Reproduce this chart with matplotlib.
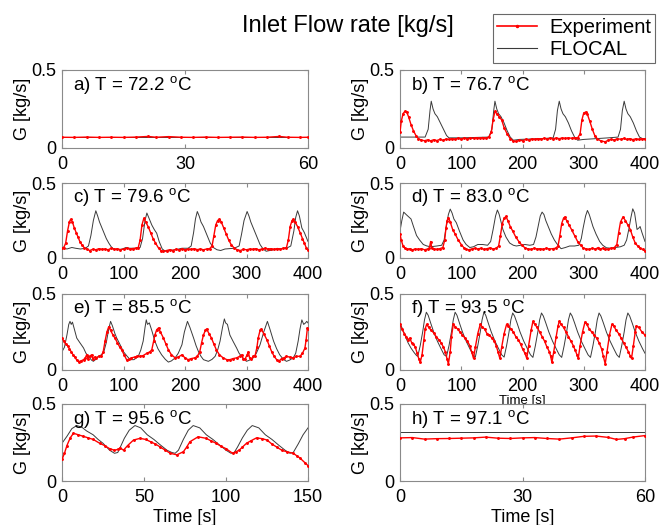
import matplotlib
matplotlib.use("Agg")
import matplotlib.pyplot as plt
from matplotlib.lines import Line2D

plt.rcParams['font.family'] = ['Liberation Sans', 'DejaVu Sans']
plt.rcParams['mathtext.fontset'] = 'custom'
plt.rcParams['mathtext.rm'] = 'Liberation Sans'

title = "Inlet Flow rate [kg/s]"
legend_labels = ["Experiment", "FLOCAL"]
panel_labels = ["a) T = 72.2", "b) T = 76.7", "c) T = 79.6", "d) T = 83.0",
                "e) T = 85.5", "f) T = 93.5", "g) T = 95.6", "h) T = 97.1"]
xlims = [60, 400, 400, 400, 400, 400, 150, 60]
xticks = [[0, 30, 60], [0, 100, 200, 300, 400], [0, 100, 200, 300, 400],
          [0, 100, 200, 300, 400], [0, 100, 200, 300, 400],
          [0, 100, 200, 300, 400], [0, 50, 100, 150], [0, 30, 60]]
yticks = [0, 0.5]
yticklabels = ["0", "0.5"]

# ---- (time [s], G [kg/s]) ----
a_sim = [(0, 0.07), (60, 0.07)]
a_exp = [(0, 0.069), (3, 0.068), (6, 0.07), (9, 0.068), (12, 0.069), (15, 0.068),
         (18, 0.07), (21, 0.074), (23, 0.069), (26, 0.073), (29, 0.069), (32, 0.068),
         (35, 0.07), (38, 0.068), (41, 0.069), (44, 0.07), (47, 0.068), (50, 0.069),
         (53, 0.074), (55, 0.069), (58, 0.068), (60, 0.069)]

b_sim = [(0, 0.07), (41, 0.07), (46, 0.12), (49, 0.24), (51, 0.30), (54, 0.25),
         (57, 0.22), (61, 0.20), (66, 0.16), (71, 0.12), (76, 0.08), (80, 0.065),
         (100, 0.065), (145, 0.07), (150, 0.12), (153, 0.24), (155, 0.30), (158, 0.25),
         (161, 0.22), (165, 0.20), (170, 0.16), (175, 0.11), (180, 0.07), (185, 0.05),
         (195, 0.055), (230, 0.06), (250, 0.065), (254, 0.12), (257, 0.24), (260, 0.30),
         (263, 0.25), (266, 0.22), (270, 0.20), (275, 0.16), (280, 0.11), (285, 0.07),
         (290, 0.05), (300, 0.055), (340, 0.065), (356, 0.07), (360, 0.12), (363, 0.24),
         (366, 0.30), (369, 0.25), (372, 0.22), (376, 0.20), (381, 0.16), (386, 0.11),
         (391, 0.07), (396, 0.06), (400, 0.06)]
b_exp = [(0, 0.10), (2, 0.17), (5, 0.22), (8, 0.235), (11, 0.23), (14, 0.20), (18, 0.15),
         (22, 0.11), (26, 0.08), (30, 0.06), (35, 0.05), (40, 0.047), (45, 0.052),
         (50, 0.046), (55, 0.053), (60, 0.048), (65, 0.055), (70, 0.05), (75, 0.057),
         (80, 0.055), (85, 0.06), (90, 0.057), (95, 0.062), (100, 0.058), (105, 0.063),
         (110, 0.06), (115, 0.065), (120, 0.061), (125, 0.066), (130, 0.062), (135, 0.067),
         (140, 0.064), (145, 0.07), (149, 0.10), (152, 0.18), (155, 0.235), (158, 0.22),
         (162, 0.20), (166, 0.18), (170, 0.13), (175, 0.09), (180, 0.06), (185, 0.045),
         (190, 0.042), (195, 0.05), (200, 0.047), (205, 0.055), (210, 0.052), (215, 0.058),
         (220, 0.055), (225, 0.06), (230, 0.057), (235, 0.062), (240, 0.058), (245, 0.063),
         (250, 0.06), (255, 0.064), (260, 0.06), (265, 0.065), (270, 0.061), (275, 0.066),
         (280, 0.062), (285, 0.066), (290, 0.065), (294, 0.09), (297, 0.18), (300, 0.225),
         (303, 0.23), (306, 0.215), (310, 0.17), (314, 0.12), (318, 0.08), (322, 0.06),
         (328, 0.045), (335, 0.04), (340, 0.05), (345, 0.055), (350, 0.052), (355, 0.06),
         (360, 0.056), (365, 0.061), (370, 0.055), (375, 0.06), (380, 0.054), (385, 0.059),
         (390, 0.055), (395, 0.06), (400, 0.056)]

c_sim = [(0, 0.08), (4, 0.065), (8, 0.06), (12, 0.065), (16, 0.07), (22, 0.065), (30, 0.06),
         (38, 0.065), (43, 0.08), (47, 0.15), (51, 0.25), (55, 0.315), (58, 0.28), (61, 0.24),
         (64, 0.21), (68, 0.17), (72, 0.13), (76, 0.10), (80, 0.075), (84, 0.06), (90, 0.055),
         (98, 0.06), (104, 0.07), (110, 0.065), (120, 0.065), (127, 0.07), (131, 0.13),
         (135, 0.25), (138, 0.30), (141, 0.27), (146, 0.22), (150, 0.19), (154, 0.165),
         (158, 0.11), (163, 0.06), (168, 0.045), (175, 0.05), (185, 0.055), (195, 0.065),
         (205, 0.065), (210, 0.08), (214, 0.17), (217, 0.26), (220, 0.31), (223, 0.28),
         (226, 0.24), (230, 0.21), (235, 0.16), (241, 0.10), (246, 0.07), (252, 0.055),
         (258, 0.05), (265, 0.06), (280, 0.065), (288, 0.08), (292, 0.16), (296, 0.25),
         (301, 0.31), (304, 0.28), (307, 0.24), (310, 0.21), (316, 0.15), (322, 0.09),
         (327, 0.06), (332, 0.045), (338, 0.05), (350, 0.06), (365, 0.065), (372, 0.08),
         (377, 0.18), (380, 0.27), (383, 0.315), (386, 0.28), (390, 0.20), (394, 0.17),
         (397, 0.14), (400, 0.11)]
c_exp = [(0, 0.066), (3, 0.07), (6, 0.10), (9, 0.18), (12, 0.24), (14, 0.258), (17, 0.24),
         (20, 0.20), (23, 0.17), (26, 0.14), (29, 0.11), (32, 0.09), (36, 0.07), (40, 0.06),
         (45, 0.05), (50, 0.058), (55, 0.055), (60, 0.062), (65, 0.058), (70, 0.06),
         (75, 0.055), (80, 0.065), (85, 0.058), (90, 0.062), (95, 0.055), (100, 0.06),
         (105, 0.065), (110, 0.06), (115, 0.063), (120, 0.065), (124, 0.07), (127, 0.12),
         (130, 0.22), (133, 0.264), (136, 0.24), (140, 0.21), (144, 0.17), (148, 0.13),
         (152, 0.10), (157, 0.066), (161, 0.05), (165, 0.044), (170, 0.05), (175, 0.055),
         (180, 0.05), (185, 0.058), (190, 0.055), (195, 0.06), (200, 0.055), (205, 0.06),
         (210, 0.058), (215, 0.062), (220, 0.056), (225, 0.06), (230, 0.055), (235, 0.06),
         (240, 0.062), (244, 0.08), (247, 0.15), (250, 0.22), (253, 0.25), (256, 0.258),
         (259, 0.24), (263, 0.20), (267, 0.16), (271, 0.12), (275, 0.09), (280, 0.066),
         (285, 0.055), (290, 0.05), (295, 0.058), (300, 0.055), (305, 0.06), (310, 0.058),
         (315, 0.062), (320, 0.055), (325, 0.06), (330, 0.065), (335, 0.06), (340, 0.062),
         (345, 0.058), (350, 0.063), (355, 0.06), (360, 0.065), (365, 0.07), (368, 0.12),
         (371, 0.21), (374, 0.25), (376, 0.258), (379, 0.24), (383, 0.21), (387, 0.17),
         (391, 0.13), (394, 0.10), (397, 0.07), (400, 0.055)]

d_sim = [(0, 0.18), (3, 0.25), (6, 0.306), (10, 0.29), (14, 0.275), (18, 0.26), (22, 0.21),
         (27, 0.15), (32, 0.12), (38, 0.09), (44, 0.08), (50, 0.075), (60, 0.08), (68, 0.085),
         (72, 0.12), (76, 0.22), (79, 0.29), (82, 0.326), (85, 0.30), (88, 0.26), (92, 0.235),
         (97, 0.18), (103, 0.12), (108, 0.09), (114, 0.07), (120, 0.075), (127, 0.09),
         (135, 0.09), (143, 0.085), (148, 0.11), (152, 0.19), (156, 0.28), (159, 0.32),
         (162, 0.29), (165, 0.24), (168, 0.19), (173, 0.14), (179, 0.10), (185, 0.085),
         (190, 0.08), (197, 0.085), (204, 0.09), (212, 0.085), (218, 0.09), (222, 0.14),
         (226, 0.22), (229, 0.28), (232, 0.306), (235, 0.29), (238, 0.25), (242, 0.21),
         (247, 0.16), (252, 0.12), (257, 0.09), (263, 0.062), (270, 0.07), (277, 0.08),
         (285, 0.08), (292, 0.085), (296, 0.13), (299, 0.20), (303, 0.28), (306, 0.317),
         (309, 0.29), (312, 0.25), (315, 0.21), (320, 0.16), (326, 0.11), (331, 0.085),
         (337, 0.068), (345, 0.065), (352, 0.07), (360, 0.075), (366, 0.085), (370, 0.12),
         (374, 0.20), (377, 0.27), (380, 0.328), (383, 0.30), (387, 0.19), (390, 0.20),
         (392, 0.21), (395, 0.17), (400, 0.11)]
d_exp = [(0, 0.16), (2, 0.12), (5, 0.08), (8, 0.065), (12, 0.058), (16, 0.062), (20, 0.055),
         (25, 0.06), (30, 0.058), (35, 0.062), (40, 0.055), (45, 0.06), (48, 0.065),
         (50, 0.11), (52, 0.065), (56, 0.06), (60, 0.058), (65, 0.062), (70, 0.07), (73, 0.12),
         (75, 0.20), (77, 0.25), (79, 0.27), (82, 0.24), (86, 0.19), (90, 0.16), (95, 0.12),
         (100, 0.09), (104, 0.07), (108, 0.057), (112, 0.055), (117, 0.06), (122, 0.065),
         (127, 0.06), (132, 0.065), (137, 0.058), (142, 0.062), (147, 0.068), (152, 0.06),
         (157, 0.065), (161, 0.08), (164, 0.15), (167, 0.23), (170, 0.265), (173, 0.277),
         (176, 0.25), (180, 0.21), (184, 0.18), (189, 0.14), (194, 0.11), (199, 0.085),
         (204, 0.068), (209, 0.06), (214, 0.058), (219, 0.065), (224, 0.06), (229, 0.062),
         (234, 0.058), (239, 0.065), (244, 0.06), (249, 0.062), (254, 0.065), (258, 0.08),
         (261, 0.15), (264, 0.23), (267, 0.265), (269, 0.273), (272, 0.25), (276, 0.22),
         (280, 0.19), (285, 0.15), (290, 0.11), (295, 0.085), (299, 0.068), (304, 0.06),
         (309, 0.058), (314, 0.065), (319, 0.06), (324, 0.07), (327, 0.06), (331, 0.065),
         (335, 0.058), (340, 0.06), (345, 0.065), (350, 0.07), (354, 0.09), (357, 0.17),
         (360, 0.24), (364, 0.273), (368, 0.25), (372, 0.22), (376, 0.19), (380, 0.14),
         (384, 0.10), (388, 0.08), (392, 0.065), (396, 0.058), (400, 0.05)]

e_sim = [(0, 0.12), (4, 0.15), (8, 0.23), (11, 0.30), (13, 0.32), (15, 0.30), (17, 0.315),
         (20, 0.27), (24, 0.21), (29, 0.18), (35, 0.145), (39, 0.11), (43, 0.09), (48, 0.065),
         (51, 0.057), (55, 0.07), (59, 0.09), (64, 0.10), (68, 0.12), (72, 0.18), (76, 0.27),
         (79, 0.32), (82, 0.29), (86, 0.24), (89, 0.21), (94, 0.17), (100, 0.12), (106, 0.09),
         (111, 0.068), (117, 0.068), (121, 0.08), (124, 0.09), (128, 0.13), (132, 0.19),
         (135, 0.28), (137, 0.33), (139, 0.30), (142, 0.31), (146, 0.26), (151, 0.19),
         (156, 0.14), (162, 0.10), (168, 0.07), (173, 0.052), (178, 0.06), (184, 0.08),
         (189, 0.11), (195, 0.166), (199, 0.25), (204, 0.32), (208, 0.28), (214, 0.21),
         (218, 0.16), (222, 0.12), (226, 0.09), (230, 0.068), (238, 0.057), (244, 0.07),
         (249, 0.09), (253, 0.13), (257, 0.19), (261, 0.28), (264, 0.336), (266, 0.31),
         (269, 0.30), (273, 0.23), (278, 0.19), (284, 0.144), (288, 0.11), (292, 0.09),
         (296, 0.07), (300, 0.057), (305, 0.065), (311, 0.08), (316, 0.11), (322, 0.166),
         (328, 0.25), (334, 0.32), (338, 0.27), (344, 0.19), (349, 0.14), (354, 0.10),
         (360, 0.07), (365, 0.057), (370, 0.065), (376, 0.08), (380, 0.11), (384, 0.19),
         (387, 0.27), (390, 0.33), (393, 0.30), (396, 0.31), (398, 0.32), (400, 0.31)]
e_exp = [(0, 0.21), (3, 0.19), (6, 0.17), (9, 0.16), (12, 0.14), (15, 0.12), (18, 0.10),
         (21, 0.085), (24, 0.065), (27, 0.055), (31, 0.06), (35, 0.068), (38, 0.08),
         (40, 0.10), (42, 0.075), (45, 0.09), (48, 0.10), (50, 0.075), (53, 0.085), (56, 0.08),
         (60, 0.09), (64, 0.09), (67, 0.12), (70, 0.19), (73, 0.25), (76, 0.285), (79, 0.26),
         (83, 0.23), (86, 0.21), (90, 0.18), (94, 0.15), (97, 0.133), (101, 0.10),
         (105, 0.068), (109, 0.07), (113, 0.08), (118, 0.085), (122, 0.09), (127, 0.09),
         (132, 0.095), (138, 0.11), (143, 0.12), (146, 0.133), (149, 0.19), (151, 0.23),
         (154, 0.265), (157, 0.277), (160, 0.25), (165, 0.21), (169, 0.17), (173, 0.133),
         (178, 0.10), (184, 0.08), (189, 0.085), (195, 0.10), (200, 0.08), (205, 0.068),
         (210, 0.075), (216, 0.08), (220, 0.09), (224, 0.12), (227, 0.18), (230, 0.23),
         (233, 0.26), (235, 0.27), (239, 0.24), (243, 0.21), (247, 0.17), (251, 0.133),
         (256, 0.10), (262, 0.08), (268, 0.068), (273, 0.068), (278, 0.075), (284, 0.08),
         (289, 0.09), (292, 0.10), (295, 0.07), (298, 0.075), (301, 0.10), (303, 0.12),
         (305, 0.08), (308, 0.07), (311, 0.09), (314, 0.095), (317, 0.15), (319, 0.21),
         (322, 0.26), (324, 0.27), (328, 0.24), (333, 0.20), (337, 0.16), (341, 0.12),
         (345, 0.09), (349, 0.068), (353, 0.06), (357, 0.075), (361, 0.08), (365, 0.09),
         (370, 0.085), (376, 0.08), (381, 0.09), (387, 0.09), (391, 0.11), (395, 0.144),
         (397, 0.20), (399, 0.277), (400, 0.27)]

f_sim = [(0, 0.31), (4, 0.27), (8, 0.23), (13, 0.18), (18, 0.144), (23, 0.115), (27, 0.095),
         (29, 0.09), (33, 0.16), (37, 0.25), (40, 0.33), (43, 0.38), (46, 0.36), (50, 0.31),
         (55, 0.25), (61, 0.19), (67, 0.14), (72, 0.10), (76, 0.09), (80, 0.16), (84, 0.25),
         (87, 0.33), (90, 0.38), (93, 0.36), (97, 0.31), (102, 0.25), (108, 0.19), (114, 0.14),
         (119, 0.10), (123, 0.085), (127, 0.16), (131, 0.25), (134, 0.33), (137, 0.38),
         (140, 0.36), (144, 0.31), (149, 0.25), (155, 0.19), (161, 0.14), (166, 0.10),
         (170, 0.085), (174, 0.16), (178, 0.25), (181, 0.33), (184, 0.375), (187, 0.355),
         (191, 0.31), (196, 0.25), (202, 0.19), (208, 0.14), (213, 0.10), (217, 0.083),
         (221, 0.16), (225, 0.25), (228, 0.33), (231, 0.375), (234, 0.355), (238, 0.31),
         (243, 0.25), (249, 0.19), (255, 0.14), (260, 0.10), (264, 0.083), (268, 0.16),
         (272, 0.25), (275, 0.33), (278, 0.375), (281, 0.355), (285, 0.31), (290, 0.25),
         (296, 0.19), (302, 0.14), (307, 0.10), (311, 0.083), (315, 0.16), (319, 0.25),
         (322, 0.33), (325, 0.375), (328, 0.355), (332, 0.31), (337, 0.25), (343, 0.19),
         (349, 0.14), (354, 0.10), (358, 0.083), (362, 0.16), (366, 0.25), (369, 0.33),
         (372, 0.375), (375, 0.355), (379, 0.31), (384, 0.25), (390, 0.19), (396, 0.14),
         (400, 0.11)]
f_exp = [(0, 0.30), (3, 0.27), (7, 0.24), (10, 0.22), (13, 0.20), (16, 0.21), (19, 0.18),
         (22, 0.17), (25, 0.15), (28, 0.11), (31, 0.07), (33, 0.05), (36, 0.10), (39, 0.20),
         (41, 0.27), (43.5, 0.30), (47, 0.28), (51, 0.26), (55, 0.245), (59, 0.22), (63, 0.20),
         (67, 0.18), (71, 0.15), (74, 0.12), (77, 0.07), (79, 0.04), (82, 0.12), (84, 0.22),
         (87, 0.30), (90, 0.285), (94, 0.27), (98, 0.25), (102, 0.23), (106, 0.21),
         (110, 0.19), (114, 0.16), (117, 0.12), (120, 0.076), (123, 0.15), (127, 0.24),
         (131, 0.30), (134, 0.285), (138, 0.27), (142, 0.24), (146, 0.23), (150, 0.21),
         (154, 0.19), (157, 0.16), (160, 0.12), (163, 0.076), (166, 0.15), (170, 0.24),
         (174, 0.30), (177, 0.29), (181, 0.27), (185, 0.25), (189, 0.22), (193, 0.20),
         (197, 0.17), (200, 0.14), (204, 0.11), (207, 0.076), (210, 0.16), (214, 0.26),
         (217, 0.32), (220, 0.30), (224, 0.28), (228, 0.25), (232, 0.22), (236, 0.19),
         (240, 0.15), (244, 0.12), (246, 0.09), (248, 0.05), (251, 0.12), (255, 0.22),
         (258, 0.29), (260, 0.32), (263, 0.30), (267, 0.28), (271, 0.25), (275, 0.22),
         (279, 0.19), (283, 0.16), (286, 0.13), (289, 0.10), (291, 0.076), (294, 0.16),
         (298, 0.25), (302, 0.315), (305, 0.30), (309, 0.27), (313, 0.25), (317, 0.23),
         (321, 0.21), (325, 0.18), (329, 0.14), (332, 0.09), (335, 0.04), (338, 0.12),
         (342, 0.23), (346, 0.30), (349, 0.29), (353, 0.26), (357, 0.24), (361, 0.21),
         (365, 0.18), (369, 0.15), (373, 0.12), (376, 0.09), (378, 0.076), (381, 0.16),
         (384, 0.25), (386, 0.29), (390, 0.28), (395, 0.25), (400, 0.23)]

g_sim = [(0, 0.245), (3, 0.29), (6, 0.34), (9, 0.36), (12, 0.35), (15, 0.325), (19, 0.30),
         (22, 0.27), (25, 0.245), (29, 0.20), (32, 0.18), (34, 0.185), (36, 0.23), (38, 0.277),
         (41, 0.33), (44.5, 0.36), (48, 0.345), (52, 0.30), (56, 0.27), (60, 0.234), (64, 0.20),
         (67, 0.185), (69, 0.18), (71, 0.20), (74, 0.27), (77, 0.33), (80, 0.36), (84, 0.345),
         (88, 0.30), (92, 0.27), (96, 0.234), (100, 0.20), (103, 0.18), (105, 0.185),
         (107, 0.22), (110, 0.28), (113, 0.33), (116, 0.36), (120, 0.345), (124, 0.30),
         (128, 0.27), (132, 0.234), (136, 0.20), (139, 0.18), (141, 0.185), (144, 0.24),
         (147, 0.30), (150, 0.345)]
g_exp = [(0, 0.14), (1.5, 0.18), (3, 0.23), (5, 0.28), (7, 0.31), (10, 0.30), (13, 0.29),
         (16, 0.28), (19, 0.27), (23, 0.245), (26, 0.23), (29, 0.21), (32, 0.20), (34, 0.205),
         (35.5, 0.215), (37.5, 0.20), (40, 0.23), (43.6, 0.266), (47.6, 0.277), (51, 0.27),
         (54, 0.255), (57, 0.24), (60, 0.22), (63, 0.20), (66, 0.18), (70, 0.17), (74, 0.19),
         (76, 0.22), (78, 0.255), (83, 0.287), (88, 0.277), (91, 0.26), (94, 0.245),
         (97, 0.225), (100, 0.21), (104, 0.18), (106, 0.19), (108, 0.20), (110, 0.22),
         (112.5, 0.245), (115, 0.26), (118.6, 0.28), (122, 0.275), (125, 0.266), (128, 0.24),
         (131, 0.22), (134, 0.20), (137, 0.19), (141, 0.18), (143, 0.165), (145, 0.15),
         (148, 0.12), (150, 0.10)]

h_sim = [(0, 0.315), (60, 0.315)]
h_exp = [(0, 0.28), (3, 0.282), (6, 0.272), (9, 0.275), (12, 0.276), (15, 0.278), (18, 0.28),
         (21, 0.285), (24, 0.278), (27, 0.276), (30, 0.28), (33, 0.282), (36, 0.276),
         (39, 0.272), (42, 0.28), (45, 0.29), (48, 0.292), (51, 0.283), (53, 0.27),
         (55, 0.275), (57, 0.285), (60, 0.295)]

sims = [a_sim, b_sim, c_sim, d_sim, e_sim, f_sim, g_sim, h_sim]
exps = [a_exp, b_exp, c_exp, d_exp, e_exp, f_exp, g_exp, h_exp]

EXP_COLOR = '#ff0000'
SIM_COLOR = '#3a3a3a'
SPINE = '#8a8a8a'

fig = plt.figure(figsize=(6.67, 5.25), dpi=100)

W, H = 667.0, 525.0
col_x = [(62, 308), (400, 645)]
row_y = [(70, 148), (183, 258), (294, 370), (404, 481)]

for i in range(8):
    r, c = divmod(i, 2)
    x0, x1 = col_x[c]
    yt, yb = row_y[r]
    ax = fig.add_axes([x0 / W, 1 - yb / H, (x1 - x0) / W, (yb - yt) / H])
    ax.set_facecolor('white')
    st, sg = zip(*sims[i])
    et, eg = zip(*exps[i])
    ax.plot(st, sg, color=SIM_COLOR, lw=0.7, zorder=2)
    ax.plot(et, eg, color=EXP_COLOR, lw=1.0, marker='.', ms=2.2, zorder=3)
    ax.set_xlim(0, xlims[i])
    ax.set_ylim(0, 0.5)
    ax.set_xticks(xticks[i])
    ax.set_yticks(yticks)
    ax.set_yticklabels(yticklabels)
    ax.tick_params(direction='in', length=3, color=SPINE, labelsize=13,
                   top=True, right=True)
    ax.tick_params(axis='y', pad=4)
    ax.tick_params(axis='x', pad=6)
    for s in ax.spines.values():
        s.set_color(SPINE)
        s.set_linewidth(0.8)
    ax.set_ylabel("G [kg/s]", fontsize=13)
    ax.yaxis.set_label_coords(-0.125, 0.5)
    ax.text(0.045, 0.95, panel_labels[i] + r" $^{\mathrm{o}}$C", transform=ax.transAxes,
            ha='left', va='top', fontsize=13.5)
    if r == 3:
        ax.set_xlabel("Time [s]", fontsize=13, labelpad=2)
    elif i == 5:
        # squeezed into the narrow gap above panel h, as in the reference
        ax.set_xlabel("Time [s]", fontsize=9.5, labelpad=0)

fig.text(348 / W, 1 - 26 / H, title, ha='center', va='center', fontsize=17)

handles = [Line2D([], [], color=EXP_COLOR, lw=1.2, marker='.', ms=3),
           Line2D([], [], color=SIM_COLOR, lw=0.8)]
leg = fig.legend(handles, legend_labels, loc='upper right',
                 bbox_to_anchor=(655 / W, 1 - 14 / H), fontsize=14.5, frameon=True,
                 fancybox=False, edgecolor='#444444', handlelength=2.0,
                 handletextpad=0.6, borderpad=0.2, labelspacing=0.15, borderaxespad=0)
leg.get_frame().set_linewidth(0.8)

fig.savefig("out.png", dpi=100)
